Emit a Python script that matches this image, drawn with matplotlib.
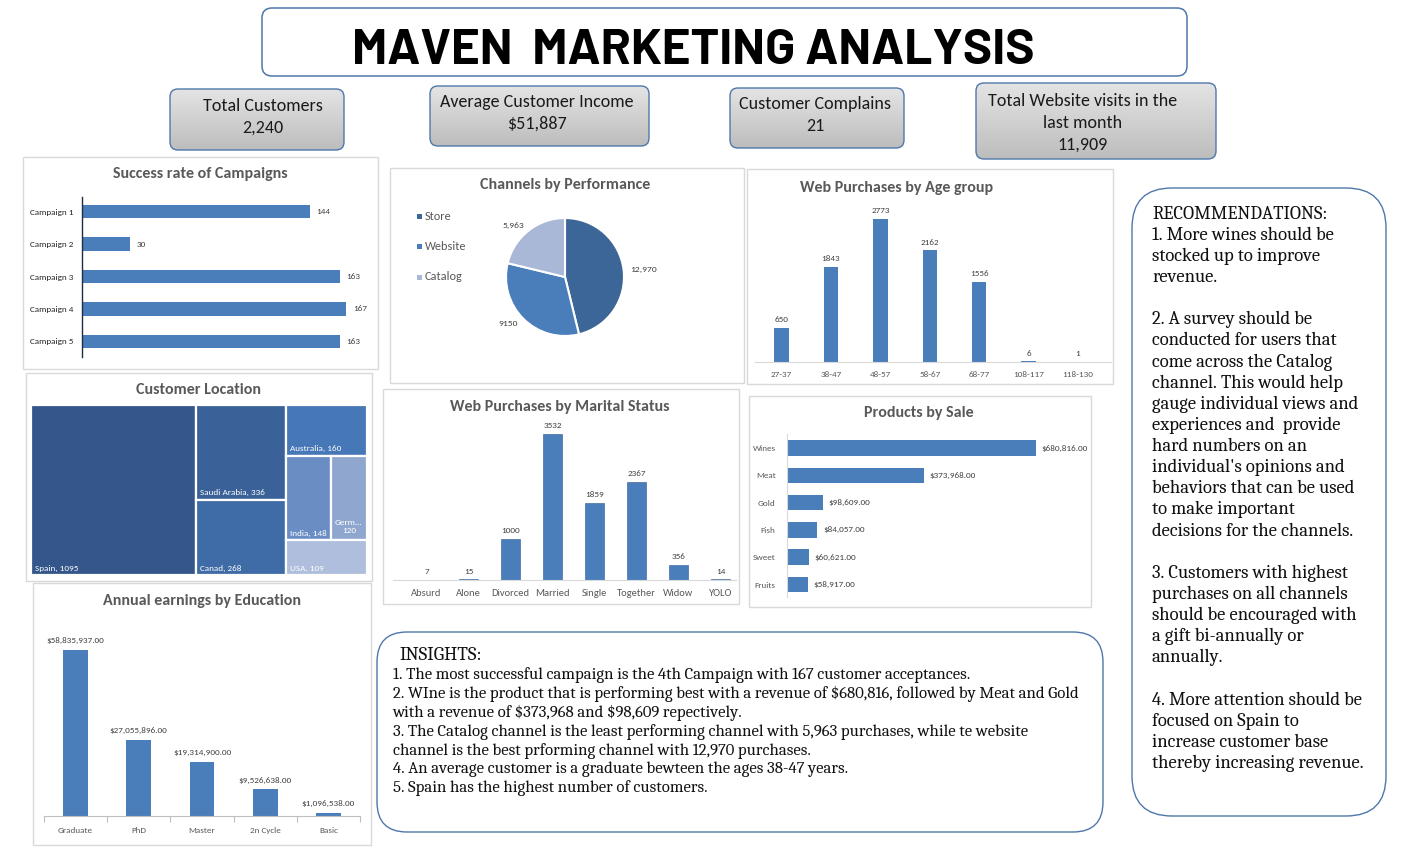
import matplotlib
matplotlib.use('Agg')
import matplotlib.pyplot as plt
from matplotlib.patches import FancyBboxPatch, Rectangle
from matplotlib.colors import LinearSegmentedColormap
import numpy as np

# ---------------- data ----------------
kpi_labels = ['Total Customers', 'Average Customer Income', 'Customer Complains',
              'Total Website visits in the\nlast month']
kpi_values = ['2,240', '$51,887', '21', '11,909']

campaigns = ['Campaign 1', 'Campaign 2', 'Campaign 3', 'Campaign 4', 'Campaign 5']
campaign_accepts = [144, 30, 163, 167, 163]

channels = ['Store', 'Website', 'Catalog']
channel_purchases = [12970, 9150, 5963]
channel_labels = ['12,970', '9150', '5,963']

age_groups = ['27-37', '38-47', '48-57', '58-67', '68-77', '108-117', '118-130']
age_web_purchases = [650, 1843, 2773, 2162, 1556, 6, 1]

countries = ['Spain', 'Saudi Arabia', 'Canad', 'Australia', 'India', 'Germany', 'USA']
country_customers = [1095, 336, 268, 160, 148, 120, 109]

marital_status = ['Absurd', 'Alone', 'Divorced', 'Married', 'Single', 'Together', 'Widow', 'YOLO']
marital_web_purchases = [7, 15, 1000, 3532, 1859, 2367, 356, 14]

products = ['Wines', 'Meat', 'Gold', 'Fish', 'Sweet', 'Fruits']
product_sales = [680816, 373968, 98609, 84057, 60621, 58917]

education = ['Graduate', 'PhD', 'Master', '2n Cycle', 'Basic']
education_earnings = [58835937, 27055896, 19314900, 9526638, 1096538]

insights_title = 'INSIGHTS:'
insights_lines = [
    '1. The most successful campaign is the 4th Campaign with 167 customer acceptances.',
    '2. WIne is the product that is performing best with a revenue of $680,816, followed by Meat and Gold',
    'with a revenue of $373,968 and $98,609 repectively.',
    '3. The Catalog channel is the least performing channel with 5,963 purchases, while te website',
    'channel is the best prforming channel with 12,970 purchases.',
    '4. An average customer is a graduate bewteen the ages 38-47 years.',
    '5. Spain has the highest number of customers.',
]

recommendation_lines = [
    'RECOMMENDATIONS:',
    '1. More wines should be',
    'stocked up to improve',
    'revenue.',
    '',
    '2. A survey should be',
    'conducted for users that',
    'come across the Catalog',
    'channel. This would help',
    'gauge individual views and',
    'experiences and  provide',
    'hard numbers on an',
    "individual's opinions and",
    'behaviors that can be used',
    'to make important',
    'decisions for the channels.',
    '',
    '3. Customers with highest',
    'purchases on all channels',
    'should be encouraged with',
    'a gift bi-annually or',
    'annually.',
    '',
    '4. More attention should be',
    'focused on Spain to',
    'increase customer base',
    'thereby increasing revenue.',
]

# ---------------- style ----------------
W, H = 1413, 848
SANS = ['Carlito', 'DejaVu Sans']
SERIF = ['Caladea', 'DejaVu Serif']
TITLE_FONT = ['Barlow', 'DejaVu Sans']
BAR = '#4a7ebb'
TITLE_C = '#595959'
LABEL_C = '#595959'
VALUE_C = '#404040'
FRAME_C = '#d9d9d9'
BOX_EDGE = '#4f77aa'
PIE_COLORS = ['#3d6698', '#4a7ebb', '#a9b8d6']
TREE_COLORS = ['#34568a', '#3a6298', '#3f6ba6', '#4677b7', '#6a8ec4', '#8fa7cf', '#aebedc']
SMALL = 6.6

plt.rcParams['font.family'] = SANS

fig = plt.figure(figsize=(W / 100, H / 100), dpi=100)
bg = fig.add_axes([0, 0, 1, 1], zorder=0)
bg.axis('off')


def ax_px(x0, y0, x1, y1):
    a = fig.add_axes([x0 / W, 1 - y1 / H, (x1 - x0) / W, (y1 - y0) / H], zorder=2)
    a.patch.set_alpha(0)
    return a


def frame(x0, y0, x1, y1):
    bg.add_patch(Rectangle((x0, y0), x1 - x0, y1 - y0, facecolor='white',
                           edgecolor=FRAME_C, linewidth=1.0, zorder=1))


def rbox(x0, y0, x1, y1, r, face='white', edge=BOX_EDGE, lw=1.0):
    p = FancyBboxPatch((x0, y0), x1 - x0, y1 - y0,
                       boxstyle=f'round,pad=0,rounding_size={r}',
                       facecolor=face, edgecolor=edge, linewidth=lw, zorder=1)
    bg.add_patch(p)
    return p


def ptitle(x, y, s):
    bg.text(x, y, s, ha='center', va='center', fontsize=11.5, fontweight='bold',
            color=TITLE_C, family=SANS, zorder=3)


# ---------------- header ----------------
rbox(262, 8, 1187, 76, 10, lw=1.1)
bg.text(693, 46, 'MAVEN  MARKETING ANALYSIS', ha='center', va='center_baseline',
        fontsize=35.5, fontweight='bold', family=TITLE_FONT, color='black', zorder=3)

kpi_boxes = [(170, 89, 344, 150), (430, 86, 649, 146), (730, 88, 904, 148), (976, 83, 1216, 159)]
kpi_text_x = [263, 537, 815, 1083]
kpi_text_y = [106, 102, 104, 101]
gray_cmap = LinearSegmentedColormap.from_list('g', ['#e4e4e4', '#bdbdbd'])
grad = np.linspace(0, 1, 64).reshape(-1, 1)
for (x0, y0, x1, y1), lab, val, tx, ty in zip(kpi_boxes, kpi_labels, kpi_values, kpi_text_x, kpi_text_y):
    p = rbox(x0, y0, x1, y1, 8, face='none', lw=1.0)
    p.set_zorder(2)
    im = bg.imshow(grad, extent=(x0, x1, y1, y0), cmap=gray_cmap, aspect='auto',
                   origin='upper', zorder=1, interpolation='bilinear')
    im.set_clip_path(p)
    lines = lab.split('\n') + [val]
    for i, s in enumerate(lines):
        bg.text(tx, ty + 22 * i, s, ha='center', va='center', fontsize=13,
                color='#1a1a1a', family=SANS, zorder=3, parse_math=False)

# ---------------- panel frames ----------------
frame(23, 157, 378, 369)
frame(390, 168, 744, 383)
frame(747, 169, 1113, 384)
frame(26, 373, 372, 581)
frame(383, 389, 739, 604)
frame(749, 396, 1091, 607)
frame(33, 583, 371, 845)

ptitle(200, 174, 'Success rate of Campaigns')
ptitle(565, 185, 'Channels by Performance')
ptitle(897, 188, 'Web Purchases by Age group')
ptitle(199, 390, 'Customer Location')
ptitle(560, 407, 'Web Purchases by Marital Status')
ptitle(919, 413, 'Products by Sale')
ptitle(202, 601, 'Annual earnings by Education')

# ---------------- campaigns (horizontal bars) ----------------
ax = ax_px(82.3, 197, 82.3 + 1.579 * 185, 357)
bars = ax.barh(range(len(campaigns)), campaign_accepts, height=0.42, color=BAR)
ax.set_xlim(0, 185)
ax.set_ylim(4.48, -0.45)
ax.set_yticks(range(len(campaigns)), campaigns)
ax.set_xticks([])
ax.tick_params(axis='y', length=0, labelsize=SMALL, pad=6.5, labelcolor='#262626')
for s in ['top', 'right', 'bottom']:
    ax.spines[s].set_visible(False)
ax.spines['left'].set_color('#1f2d44')
ax.spines['left'].set_linewidth(1.0)
ax.bar_label(bars, padding=5, fontsize=SMALL, color=VALUE_C)

# ---------------- pie ----------------
ax = ax_px(506, 218, 624, 336)
ax.pie(channel_purchases, colors=PIE_COLORS, startangle=90, counterclock=False,
       labels=channel_labels, labeldistance=1.12,
       wedgeprops=dict(edgecolor='white', linewidth=1.5),
       textprops=dict(fontsize=6.8, color=VALUE_C, family=SANS))
ax.set_xlim(-1, 1)
ax.set_ylim(-1, 1)
for i, (ch, col) in enumerate(zip(channels, PIE_COLORS)):
    y = 216 + 30.5 * i
    bg.add_patch(Rectangle((417, y - 2.5), 5, 5, facecolor=col, edgecolor='none', zorder=3))
    bg.text(425, y, ch, ha='left', va='center', fontsize=8.8, color=LABEL_C, family=SANS, zorder=3)

# ---------------- age groups ----------------
sp = 49.4
c0 = 781.6
a_lo, a_hi = -0.54, 6.67
ax = ax_px(c0 + a_lo * sp, 361.7 - 0.05146 * 3000, c0 + a_hi * sp, 361.7)
bars = ax.bar(range(len(age_groups)), age_web_purchases, width=0.29, color=BAR)
ax.set_xlim(a_lo, a_hi)
ax.set_ylim(0, 3000)
ax.set_xticks(range(len(age_groups)), age_groups)
ax.set_yticks([])
ax.tick_params(axis='x', length=0, labelsize=SMALL, pad=6.5, labelcolor=LABEL_C)
for s in ['top', 'right', 'left']:
    ax.spines[s].set_visible(False)
ax.spines['bottom'].set_color(FRAME_C)
ax.bar_label(bars, padding=3.5, fontsize=SMALL, color=VALUE_C)

# ---------------- treemap ----------------
tree_structure = ('h', [0, ('v', [1, 2]), ('v', [3, ('h', [4, 5]), 6])])


def node_sum(node):
    if isinstance(node, int):
        return country_customers[node]
    return sum(node_sum(k) for k in node[1])


def tree_layout(node, x, y, w, h, out):
    if isinstance(node, int):
        out[node] = (x, y, w, h)
        return
    orient, kids = node
    tot = node_sum(node)
    pos = 0.0
    for k in kids:
        f = node_sum(k) / tot
        if orient == 'h':
            tree_layout(k, x + pos * w, y, w * f, h, out)
        else:
            tree_layout(k, x, y + pos * h, w, h * f, out)
        pos += f


tx0, ty0, tx1, ty1 = 31, 405, 367, 575
ax = ax_px(tx0, ty0, tx1, ty1)
ax.set_xlim(0, 1)
ax.set_ylim(1, 0)
ax.axis('off')
cells = {}
tree_layout(tree_structure, 0, 0, 1, 1, cells)
pw, ph = tx1 - tx0, ty1 - ty0
for i, (name, val) in enumerate(zip(countries, country_customers)):
    x, y, w, h = cells[i]
    ax.add_patch(Rectangle((x, y), w, h, facecolor=TREE_COLORS[i], edgecolor='white', linewidth=1.6))
    if w * pw < 40:
        ax.text(x + w / 2, y + h - 6 / ph, f'{name[:4]}...\n{val}', ha='center', va='bottom',
                fontsize=SMALL, color='white', linespacing=1.2)
    else:
        ax.text(x + 4 / pw, y + h - 7 / ph, f'{name}, {val}', ha='left', va='center',
                fontsize=SMALL, color='white')

# ---------------- marital status ----------------
sp = 42.0
c0 = 426.5
m_lo, m_hi = -0.79, 7.36
ax = ax_px(c0 + m_lo * sp, 580 - 146 / 3532 * 4000, c0 + m_hi * sp, 580)
bars = ax.bar(range(len(marital_status)), marital_web_purchases, width=0.43, color=BAR,
              edgecolor='#2f5b8f', linewidth=0.4)
ax.set_xlim(m_lo, m_hi)
ax.set_ylim(0, 4000)
ax.set_xticks(range(len(marital_status)), marital_status)
ax.set_yticks([])
ax.tick_params(axis='x', length=0, labelsize=7.6, pad=6.5, labelcolor=LABEL_C)
for s in ['top', 'right', 'left']:
    ax.spines[s].set_visible(False)
ax.spines['bottom'].set_color(FRAME_C)
ax.bar_label(bars, padding=3.5, fontsize=SMALL, color=VALUE_C)

# ---------------- products ----------------
sp = 27.3
c0 = 448
p_lo, p_hi = -0.51, 5.46
ax = ax_px(786.7, c0 + p_lo * sp, 786.7 + 249.3 / 680816 * 800000, c0 + p_hi * sp)
bars = ax.barh(range(len(products)), product_sales, height=0.57, color=BAR)
ax.set_xlim(0, 800000)
ax.set_ylim(p_hi, p_lo)
ax.set_yticks(range(len(products)), products)
ax.set_xticks([])
ax.tick_params(axis='y', length=0, labelsize=SMALL, pad=8, labelcolor=LABEL_C)
for s in ['top', 'right', 'bottom']:
    ax.spines[s].set_visible(False)
ax.spines['left'].set_color(FRAME_C)
ax.bar_label(bars, padding=4, fontsize=SMALL, color=VALUE_C, fmt='${:,.2f}')

# ---------------- education ----------------
ax = ax_px(44, 816 - 166 / 58835937 * 70e6, 360, 816)
bars = ax.bar(range(len(education)), education_earnings, width=0.39, color=BAR)
ax.set_xlim(-0.5, 4.5)
ax.set_ylim(0, 70e6)
ax.set_xticks(range(len(education)), education)
ax.set_xticks(np.arange(-0.5, 5, 1), minor=True)
ax.set_yticks([])
ax.tick_params(axis='x', which='major', length=0, labelsize=SMALL, pad=8, labelcolor=LABEL_C)
ax.tick_params(axis='x', which='minor', length=4, color='#bfbfbf', width=0.8)
for s in ['top', 'right', 'left']:
    ax.spines[s].set_visible(False)
ax.spines['bottom'].set_color('#bfbfbf')
ax.bar_label(bars, padding=4, fontsize=SMALL, color=VALUE_C, fmt='${:,.2f}')

# ---------------- insights ----------------
rbox(377, 632, 1103, 832, 30, lw=1.0)
bg.text(399, 655, insights_title, ha='left', va='center', fontsize=13.7, family=SERIF,
        color='#111111', zorder=3, parse_math=False)
for i, s in enumerate(insights_lines):
    bg.text(393, 675 + 18.9 * i, s, ha='left', va='center', fontsize=12.1, family=SERIF,
            color='#111111', zorder=3, parse_math=False)

# ---------------- recommendations ----------------
rbox(1132, 188, 1386, 816, 40, lw=1.0)
for i, s in enumerate(recommendation_lines):
    if s:
        bg.text(1152, 214 + 21.13 * i, s, ha='left', va='center', fontsize=13.4, family=SERIF,
                color='#111111', zorder=3, parse_math=False)

bg.set_xlim(0, W)
bg.set_ylim(H, 0)
fig.savefig('out.png', dpi=100, facecolor='white')
